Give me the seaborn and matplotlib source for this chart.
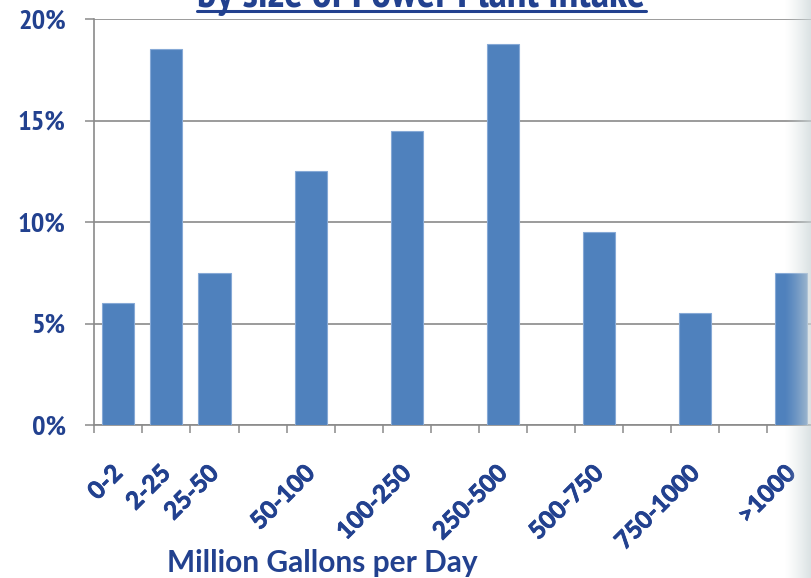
import numpy as np
import pandas as pd
import matplotlib
matplotlib.use("Agg")
import matplotlib.pyplot as plt
import seaborn as sns
from matplotlib import font_manager
from matplotlib.lines import Line2D
import matplotlib.patheffects as pe

# ---- data ----
categories = ["0-2", "2-25", "25-50", "50-100", "100-250", "250-500",
              "500-750", "750-1000", ">1000"]
percent = [6.0, 18.5, 7.5, 12.5, 14.5, 18.75, 9.5, 5.5, 7.5]
# slot order along the category axis (blank slots separate the wider bins)
slot_order = ["0-2", "2-25", "25-50", "gap1", "50-100", "gap2", "100-250",
              "gap3", "250-500", "gap4", "500-750", "gap5", "750-1000",
              "gap6", ">1000"]
yticks = [0, 5, 10, 15, 20]
title = "by size of Power Plant Intake"
xlabel = "Million Gallons per Day"

ttf = font_manager.fontManager.ttflist
allnames = sorted({f.name for f in ttf})


def has_bold(name):
    for f in ttf:
        if f.name != name:
            continue
        w = f.weight
        if isinstance(w, str):
            w = font_manager.weight_dict.get(w, 400)
        if w >= 600:
            return True
    return False


bold_font = next((n for n in ["Lato", "Open Sans", "Noto Sans", "Roboto",
                              "Liberation Sans", "DejaVu Sans"] if has_bold(n)),
                 "DejaVu Sans")
narrow_cands = [n for n in allnames if "Narrow" in n] + \
               [n for n in allnames if "Condensed" in n]
narrow_bold = [n for n in narrow_cands if has_bold(n)]
narrow_font = (narrow_bold or narrow_cands or [bold_font])[0]
narrow_is_bold = bool(narrow_bold)

NAVY = "#22418f"
GRID = "#8a8a8a"
BAR = "#4f81bd"

sns.set_style("white")
plt.rcParams["font.family"] = [bold_font, "DejaVu Sans"]

W, H = 812, 578
fig = plt.figure(figsize=(W / 100, H / 100), dpi=100)
x0, x1 = 94.3, 815.5
y0, y1 = 425, 19
ax = fig.add_axes([x0 / W, 1 - y0 / H, (x1 - x0) / W, (y0 - y1) / H])

df = pd.DataFrame({"cat": categories, "pct": percent})
sns.barplot(data=df, x="cat", y="pct", order=slot_order, color=BAR,
            saturation=1, width=0.667, edgecolor="#86a9d6", linewidth=0.8,
            ax=ax, zorder=3)

thick_narrow = [] if narrow_is_bold else [pe.withStroke(linewidth=0.9, foreground=NAVY)]
thick = [pe.withStroke(linewidth=0.6, foreground=NAVY)]

ax.set_xlim(-0.5, len(slot_order) - 0.5)
ax.set_ylim(0, 20)
ax.set_yticks(yticks)
ax.set_yticklabels([f"{v}%" for v in yticks], fontfamily=[narrow_font, "DejaVu Sans"],
                   fontsize=20.5, color=NAVY, fontweight="bold")
for lab in ax.get_yticklabels():
    lab.set_path_effects(thick_narrow)
ax.yaxis.grid(True, color=GRID, linewidth=1.2, zorder=0)
ax.set_axisbelow(True)

labels = [c if c in categories else "" for c in slot_order]
ax.set_xticks(range(len(slot_order)))
ax.set_xticklabels(labels, rotation=45, ha="right", va="center",
                   rotation_mode="anchor",
                   fontsize=17.5, fontweight="bold", color=NAVY)
for lab in ax.get_xticklabels():
    lab.set_path_effects(thick)
ax.tick_params(axis="x", which="major", length=0, pad=32)
ax.set_xticks(np.arange(-0.5, len(slot_order), 1.0), minor=True)
ax.tick_params(axis="x", which="minor", length=6, width=1.1, color=GRID,
               direction="out", bottom=True)
ax.tick_params(axis="y", length=6.5, width=1.1, color=GRID, direction="out",
               left=True, pad=14)

for s in ["top", "right"]:
    ax.spines[s].set_visible(False)
for s in ["left", "bottom"]:
    ax.spines[s].set_color(GRID)
    ax.spines[s].set_linewidth(1.2)

ax.set_ylabel("")
ax.set_xlabel(xlabel, fontsize=21.5, fontweight="bold", color=NAVY)
ax.xaxis.set_label_coords((322.5 - x0) / (x1 - x0), (y0 - 572) / (y0 - y1))
ax.xaxis.label.set_va("baseline")

# clipped title with underline, fitted to the reference width
t = fig.text(421 / W, 1 - 7 / H, title, ha="center", va="baseline",
             fontfamily=[narrow_font, "DejaVu Sans"], fontsize=24,
             fontweight="bold", color=NAVY, path_effects=thick_narrow)
fig.canvas.draw()
wpx = t.get_window_extent().width
t.set_fontsize(24 * 448 / wpx)
fig.add_artist(Line2D([197 / W, 646 / W], [1 - 10.5 / H, 1 - 10.5 / H],
                      transform=fig.transFigure, color=NAVY, linewidth=2.2))

# faded edge on the right
gax = fig.add_axes([784 / W, 0, 28 / W, 1], zorder=10)
ramp = np.linspace(0, 1, 64) ** 1.3
img = np.zeros((2, 64, 4))
img[..., 0] = 0.80
img[..., 1] = 0.84
img[..., 2] = 0.85
img[..., 3] = ramp * 0.75
gax.imshow(img, aspect="auto", extent=[0, 1, 0, 1])
gax.axis("off")

fig.savefig("out.png", dpi=100)
